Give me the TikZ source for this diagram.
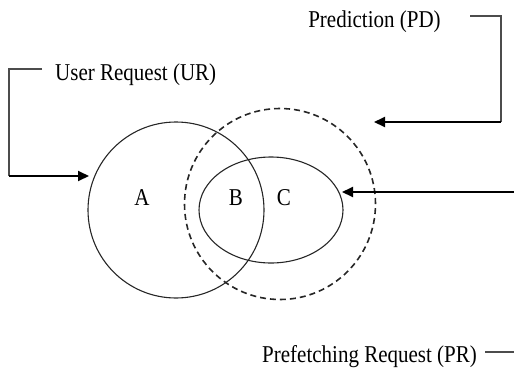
\documentclass[tikz,border=0pt]{standalone}
\usepackage{fontspec}
\setmainfont{Liberation Serif}
\usetikzlibrary{arrows.meta,shapes.geometric}
\begin{document}
\begin{tikzpicture}[x=1pt,y=-1pt,
  lbl/.style={inner sep=0pt,font=\fontsize{21pt}{24pt}\selectfont},
  set/.style={draw,inner sep=0pt,line width=1.1pt,color=black!85},
  feed/.style={line width=1.1pt,color=black!70},
  arr/.style={line width=2pt,-{Triangle[length=11pt,width=10pt]}}]
\useasboundingbox (0,0) rectangle (514,370);
% sets
\node[set,circle,minimum size=176pt] (ur) at (176,210) {};
\node[set,circle,dashed,dash pattern=on 6pt off 4pt,line width=1.6pt,minimum size=191pt] (pd) at (280,204) {};
\node[set,ellipse,minimum width=144pt,minimum height=106pt] (pr) at (271,210) {};
% region labels
\node[lbl] (la) at (142,198) {\scalebox{1}[1.15]{A}};
\node[lbl] (lb) at (236,198) {\scalebox{1}[1.15]{B}};
\node[lbl] (lc) at (284,198) {\scalebox{1}[1.15]{C}};
% User Request
\node[lbl,anchor=west] (urt) at (55,75) {\scalebox{1}[1.15]{User Request (UR)}};
\coordinate (u1) at (42,69);
\coordinate (u2) at (9,69);
\coordinate (u3) at (9,176);
\coordinate (u4) at (89,176);
\draw[feed] (u1) -- (u2) -- (u3);
\draw[arr] (u3) -- (u4);
% Prediction
\node[lbl] (pdt) at (374.5,22) {\scalebox{1}[1.15]{Prediction (PD)}};
\coordinate (p1) at (470,16);
\coordinate (p2) at (501,16);
\coordinate (p3) at (501,122);
\coordinate (p4) at (374,122);
\draw[feed] (p1) -- (p2) -- (p3);
\draw[arr] (p3) -- (p4);
% Prefetching Request
\node[lbl] (prt) at (369.5,357) {\scalebox{1}[1.15]{Prefetching Request (PR)}};
\coordinate (r1) at (485,352);
\coordinate (r2) at (514,352);
\coordinate (r3) at (514,192);
\coordinate (r4) at (342,192);
\draw[feed] (r1) -- (r2);
\draw[arr] (r3) -- (r4);
\end{tikzpicture}
\end{document}
